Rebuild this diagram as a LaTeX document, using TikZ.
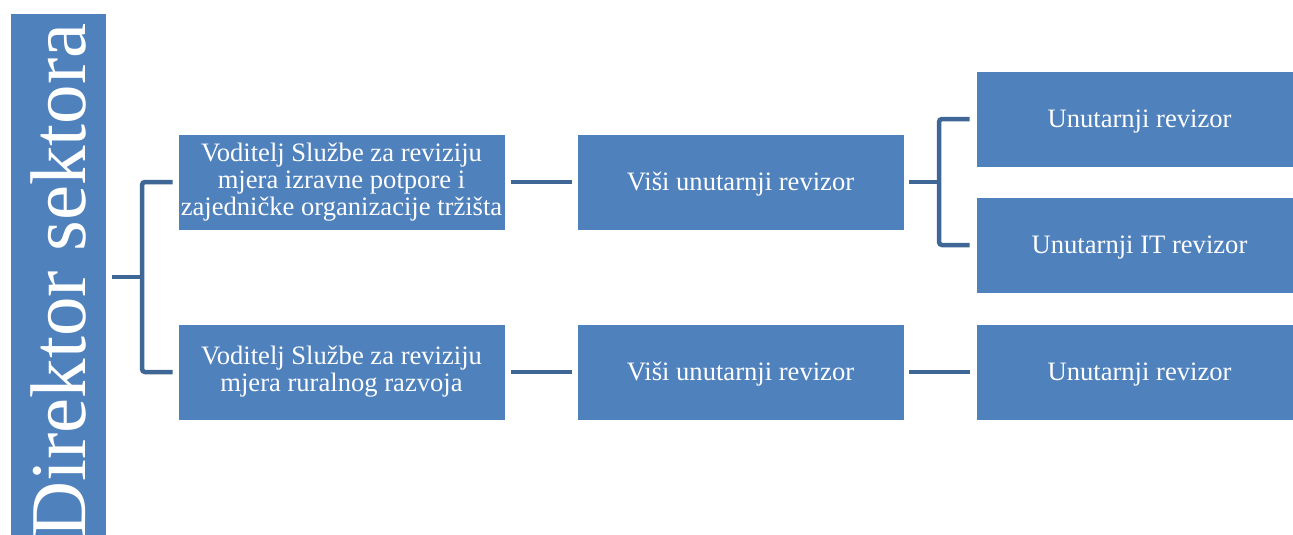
\documentclass[tikz,border=0pt]{standalone}
\usepackage{fontspec}
\setmainfont{Liberation Serif}
\definecolor{boxblue}{HTML}{4F81BD}
\definecolor{connblue}{HTML}{3F6796}
\begin{document}
\begin{tikzpicture}[x=1pt,y=-1pt,
  orgbox/.style={rectangle, fill=boxblue, draw=white, line width=0.8pt, text=white,
    minimum width=327pt, minimum height=96pt, inner sep=0pt, align=center,
    font=\fontsize{26.6}{27}\selectfont, execute at begin node={\rule{0pt}{22pt}}},
  dirbox/.style={rectangle, fill=boxblue, draw=white, line width=0.8pt, text=white,
    minimum width=536pt, minimum height=96pt, inner sep=0pt, rotate=90,
    font=\fontsize{79}{79}\selectfont},
  conn/.style={draw=connblue, line width=4.5pt, rounded corners=3pt}]
\useasboundingbox (0,0) rectangle (1293,535);
\clip (0,0) rectangle (1293,535);
\node[dirbox] (dir) at (58,281) {Direktor sektora};
\node[orgbox] (L1) at (341.5,182) {Voditelj Službe za reviziju\\mjera izravne potpore i\\zajedničke organizacije tržišta};
\node[orgbox] (L2) at (341.5,372) {Voditelj Službe za reviziju\\mjera ruralnog razvoja};
\node[orgbox] (M1) at (740.5,182) {Viši unutarnji revizor};
\node[orgbox] (M2) at (740.5,372) {Viši unutarnji revizor};
\node[orgbox] (R1) at (1139.5,119) {Unutarnji revizor};
\node[orgbox] (R2) at (1139.5,245) {Unutarnji IT revizor};
\node[orgbox] (R3) at (1139.5,372) {Unutarnji revizor};
\coordinate (j1) at (142,277);
\coordinate (j2) at (939,182);
\draw[conn] ([xshift=6pt]dir.south |- j1) -- (j1);
\draw[conn] ([xshift=-5pt]L1.west) -| (j1) |- ([xshift=-5pt]L2.west);
\draw[conn] ([xshift=6pt]L1.east) -- ([xshift=-5pt]M1.west);
\draw[conn] ([xshift=6pt]L2.east) -- ([xshift=-5pt]M2.west);
\draw[conn] ([xshift=5pt]M1.east) -- (j2);
\draw[conn] ([xshift=-6pt]R1.west) -| (j2) |- ([xshift=-6pt]R2.west);
\draw[conn] ([xshift=5pt]M2.east) -- ([xshift=-6pt]R3.west);
\end{tikzpicture}
\end{document}
